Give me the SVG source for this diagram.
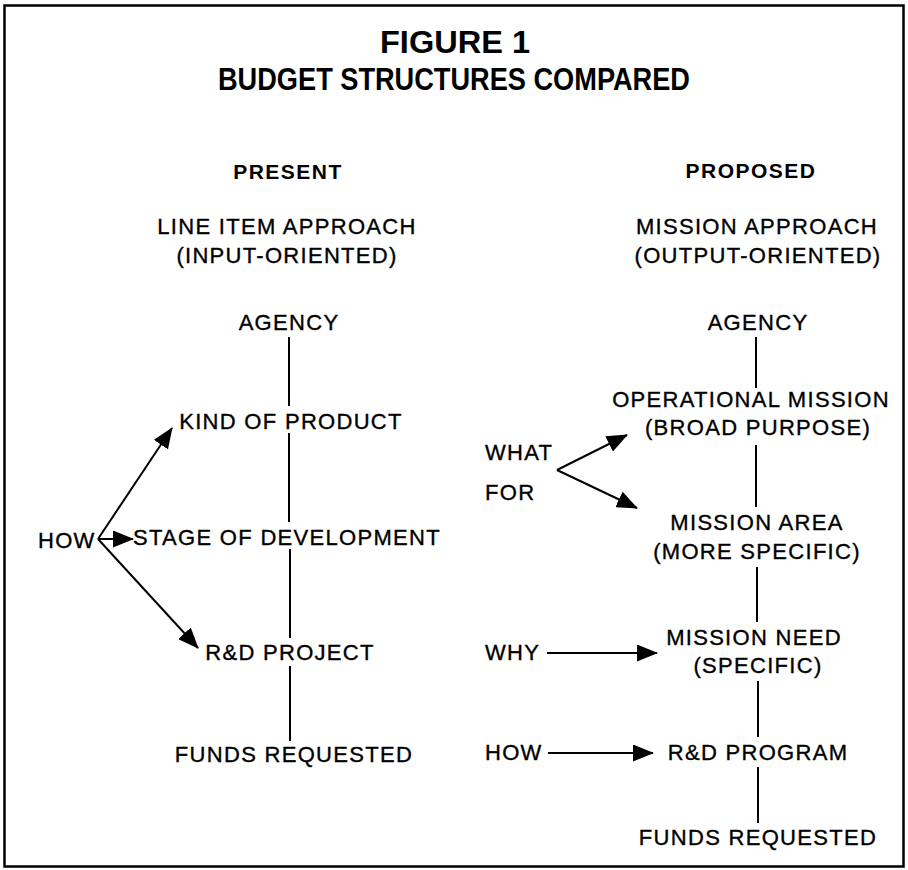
<svg xmlns="http://www.w3.org/2000/svg" width="908" height="870" viewBox="0 0 908 870">
  <defs>
    <marker id="head" markerUnits="userSpaceOnUse" markerWidth="21" markerHeight="17" refX="20" refY="8.5" orient="auto">
      <path d="M0,0 L21,8.5 L0,17 Z" fill="#000"/>
    </marker>
    <style>
      .title { font-family: "Liberation Sans", Arial, sans-serif; font-weight: bold; font-size: 31px; fill: #000; text-anchor: middle; }
      .head { font-family: "Liberation Sans", Arial, sans-serif; font-weight: bold; font-size: 21px; letter-spacing: 1.5px; fill: #000; text-anchor: middle; }
      .lbl { font-family: "Liberation Sans", Arial, sans-serif; font-size: 22px; letter-spacing: 1.3px; fill: #000; stroke: #000; stroke-width: 0.35px; text-anchor: middle; }
      .lft { text-anchor: start; }
      .edge { stroke: #000; stroke-width: 2; fill: none; }
      .arrow { stroke: #000; stroke-width: 2; fill: none; marker-end: url(#head); }
    </style>
  </defs>

  <rect width="908" height="870" fill="#fff"/>
  <!-- frame -->
  <rect x="4.5" y="5.5" width="899" height="861" fill="none" stroke="#000" stroke-width="2.5"/>

  <!-- title -->
  <g id="title">
    <text class="title" x="455" y="53" textLength="150" lengthAdjust="spacingAndGlyphs">FIGURE 1</text>
    <text class="title" x="454" y="90" textLength="472" lengthAdjust="spacingAndGlyphs">BUDGET STRUCTURES COMPARED</text>
  </g>

  <!-- column headings -->
  <g id="present-heading">
    <text class="head" x="288" y="179">PRESENT</text>
    <text class="lbl" x="287" y="234">LINE ITEM APPROACH</text>
    <text class="lbl" x="287" y="263">(INPUT-ORIENTED)</text>
  </g>
  <g id="proposed-heading">
    <text class="head" x="751" y="178">PROPOSED</text>
    <text class="lbl" x="757" y="234">MISSION APPROACH</text>
    <text class="lbl" x="758" y="263">(OUTPUT-ORIENTED)</text>
  </g>

  <!-- connectors -->
  <g id="connectors">
    <!-- present hierarchy -->
    <line class="edge" x1="289" y1="337" x2="289" y2="406"/>
    <line class="edge" x1="289" y1="433" x2="289" y2="522"/>
    <line class="edge" x1="290" y1="549" x2="290" y2="638"/>
    <line class="edge" x1="290" y1="666" x2="290" y2="741"/>
    <!-- present HOW fan -->
    <line class="arrow" x1="98" y1="539" x2="172" y2="428"/>
    <line class="arrow" x1="98" y1="539" x2="133" y2="539"/>
    <line class="arrow" x1="98" y1="539" x2="198" y2="648"/>
    <!-- proposed hierarchy -->
    <line class="edge" x1="756" y1="337" x2="756" y2="388"/>
    <line class="edge" x1="756" y1="445" x2="756" y2="507"/>
    <line class="edge" x1="757" y1="567" x2="757" y2="622"/>
    <line class="edge" x1="758" y1="681" x2="758" y2="737"/>
    <line class="edge" x1="758" y1="767" x2="758" y2="823"/>
    <!-- WHAT FOR fan -->
    <line class="arrow" x1="557" y1="470" x2="627" y2="435"/>
    <line class="arrow" x1="557" y1="470" x2="637" y2="508"/>
    <!-- WHY / HOW -->
    <line class="arrow" x1="547" y1="653" x2="657" y2="653"/>
    <line class="arrow" x1="548" y1="753" x2="653" y2="753"/>
  </g>

  <!-- present nodes -->
  <g id="p-agency"><text class="lbl" x="289" y="330">AGENCY</text></g>
  <g id="p-kind"><text class="lbl" x="291" y="429">KIND OF PRODUCT</text></g>
  <g id="p-stage"><text class="lbl lft" x="133" y="545">STAGE OF DEVELOPMENT</text></g>
  <g id="p-project"><text class="lbl" x="290" y="660">R&amp;D PROJECT</text></g>
  <g id="p-funds"><text class="lbl" x="294" y="762">FUNDS REQUESTED</text></g>
  <g id="p-how"><text class="lbl lft" x="38" y="548">HOW</text></g>

  <!-- proposed nodes -->
  <g id="m-agency"><text class="lbl" x="758" y="330">AGENCY</text></g>
  <g id="m-operational">
    <text class="lbl" x="751" y="407">OPERATIONAL MISSION</text>
    <text class="lbl" x="758" y="435">(BROAD PURPOSE)</text>
  </g>
  <g id="m-area">
    <text class="lbl" x="757" y="530">MISSION AREA</text>
    <text class="lbl" x="757" y="559">(MORE SPECIFIC)</text>
  </g>
  <g id="m-need">
    <text class="lbl" x="754" y="645">MISSION NEED</text>
    <text class="lbl" x="758" y="673">(SPECIFIC)</text>
  </g>
  <g id="m-program"><text class="lbl" x="758" y="760">R&amp;D PROGRAM</text></g>
  <g id="m-funds"><text class="lbl" x="758" y="845">FUNDS REQUESTED</text></g>
  <g id="m-whatfor">
    <text class="lbl lft" x="485" y="460">WHAT</text>
    <text class="lbl lft" x="485" y="500">FOR</text>
  </g>
  <g id="m-why"><text class="lbl lft" x="485" y="660">WHY</text></g>
  <g id="m-how"><text class="lbl lft" x="485" y="760">HOW</text></g>
</svg>
